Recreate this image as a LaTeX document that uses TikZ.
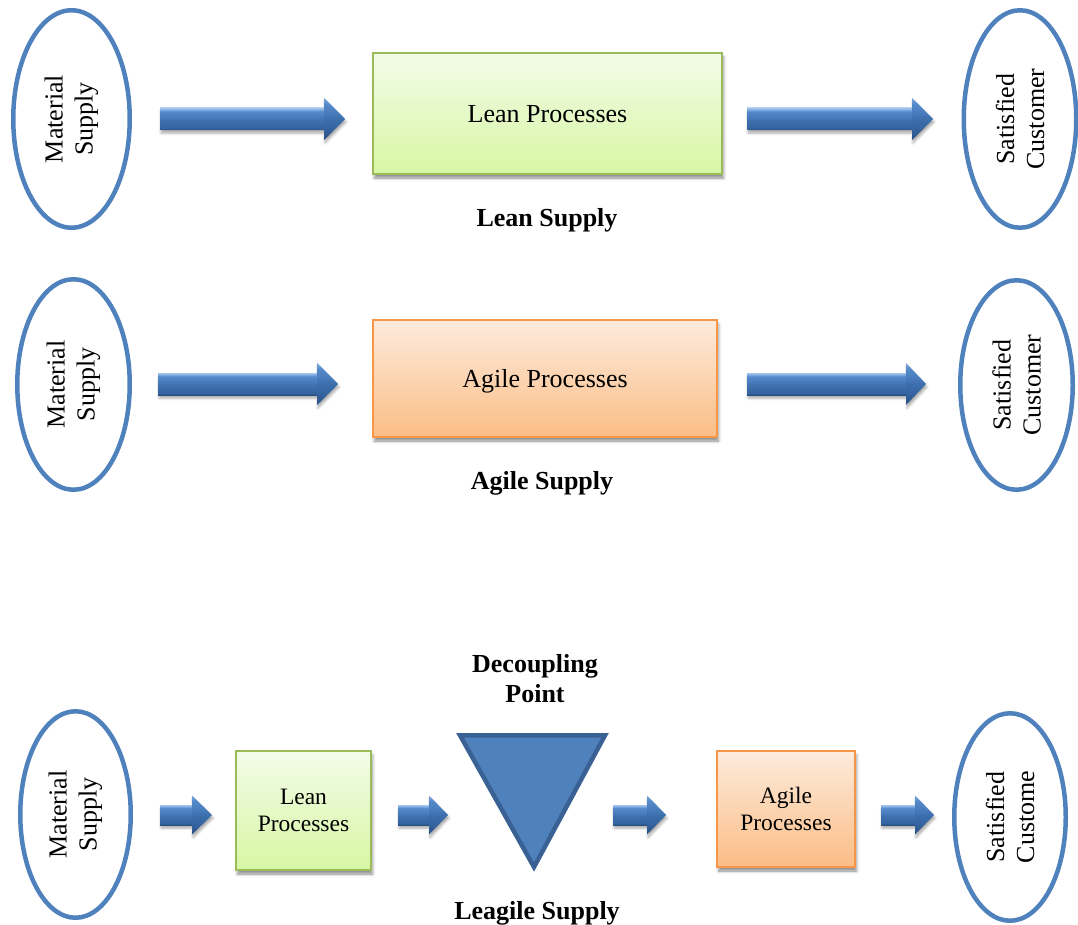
\documentclass[tikz,border=0pt]{standalone}
\usepackage{fontspec}
\setmainfont{Liberation Serif}
\usetikzlibrary{shapes.geometric,shadows.blur,calc}

% palette
\definecolor{ringblue}{HTML}{4F81BD}
\definecolor{triedge}{HTML}{3A6194}
\definecolor{leanedge}{HTML}{9BBB59}
\definecolor{leantop}{HTML}{F3FBE9}
\definecolor{leanbot}{HTML}{D7F7A3}
\definecolor{agileedge}{HTML}{F79646}
\definecolor{agiletop}{HTML}{FDEBDC}
\definecolor{agilebot}{HTML}{FBBD86}
\definecolor{arA}{HTML}{284F80}
\definecolor{arB}{HTML}{3463A0}
\definecolor{arC}{HTML}{3D6FAD}
\definecolor{arD}{HTML}{4A7DBE}
\definecolor{arE}{HTML}{5489CA}
\definecolor{arF}{HTML}{80AADF}
\definecolor{arG}{HTML}{A3C4EC}

% bevelled look of the block arrows (bottom = 0bp)
\pgfdeclareverticalshading{arrowbody}{100bp}{%
  color(0bp)=(arA); color(25bp)=(arA); color(29bp)=(arB); color(45bp)=(arC);
  color(56bp)=(arD); color(67bp)=(arE); color(71bp)=(arF); color(75bp)=(arG);
  color(100bp)=(arG)}
\pgfdeclareverticalshading{arrowtip}{100bp}{%
  color(0bp)=(arA); color(25bp)=(arA); color(38bp)=(arB); color(50bp)=(arC);
  color(58bp)=(arD); color(68bp)=(arE); color(75bp)=(arF); color(100bp)=(arF)}

% block arrow from coordinate #1 to #2: shaft half-width #3, head half-width #4, head length #5
\newcommand\blockarrow[5]{%
  \path[arrowshadow] let \p1=(#1), \p2=(#2) in
    (\x1,\y1+#3) -- (\x2-#5,\y1+#3) -- (\x2-#5,\y1+#4) -- (\x2,\y1)
    -- (\x2-#5,\y1-#4) -- (\x2-#5,\y1-#3) -- (\x1,\y1-#3) -- cycle;
  \path[shading=arrowbody] let \p1=(#1), \p2=(#2) in
    (\x1,\y1-#3) rectangle ({\x2-#5+0.6pt},\y1+#3);
  \path[shading=arrowtip] let \p1=(#1), \p2=(#2) in
    (\x2-#5,\y1+#4) -- (\x2,\y1) -- (\x2-#5,\y1-#4) -- cycle;
}

\begin{document}
\begin{tikzpicture}[x=1pt,y=-1pt,
  ring/.style={ellipse, draw=ringblue, line width=4.5pt, inner sep=0pt,
    align=center, rotate=90, font=\fontsize{26}{30}\selectfont},
  procbox/.style={draw, line width=2pt, inner sep=0pt, align=center,
    blur shadow={shadow xshift=1.5pt, shadow yshift=-4pt, shadow blur radius=3pt, shadow opacity=45}},
  leanbox/.style={procbox, draw=leanedge, top color=leantop, bottom color=leanbot},
  agilebox/.style={procbox, draw=agileedge, top color=agiletop, bottom color=agilebot},
  bigtext/.style={font=\fontsize{26}{30}\selectfont, text height=24pt, text depth=6pt},
  smalltext/.style={font=\fontsize{23.5}{27}\selectfont},
  caption/.style={font=\bfseries\fontsize{26}{30}\selectfont, inner sep=0pt, align=center},
  arrowshadow/.style={blur shadow={shadow xshift=1pt, shadow yshift=-3pt, shadow blur radius=2.5pt, shadow opacity=35}},
  decouple/.style={draw=triedge, fill=ringblue, line width=4.5pt, line join=miter}]
\useasboundingbox (0,0) rectangle (1078,925);

% ---------- lean supply ----------
\node[ring, minimum width=217.5pt, minimum height=116.5pt] (ms1) at (71.5,119) {Material\\Supply};
\node[leanbox, bigtext, minimum width=349pt, minimum height=121pt] (lp1) at (547.5,113.5) {Lean Processes};
\node[ring, minimum width=217.5pt, minimum height=112.5pt] (sc1) at (1020,119) {Satisfied\\Customer};
\node[caption, anchor=base] (cap1) at (547,227) {Lean Supply};

\coordinate (a1s) at (160,119); \coordinate (a1e) at (345,119);
\coordinate (a2s) at (747,119); \coordinate (a2e) at (933,119);
\blockarrow{a1s}{a1e}{11pt}{21pt}{21pt}
\blockarrow{a2s}{a2e}{11pt}{21pt}{21pt}

% ---------- agile supply ----------
\node[ring, minimum width=210.5pt, minimum height=112.5pt] (ms2) at (73.5,384.5) {Material\\Supply};
\node[agilebox, bigtext, minimum width=344pt, minimum height=117pt] (ap2) at (545,378.5) {Agile Processes};
\node[ring, minimum width=209.5pt, minimum height=112.5pt] (sc2) at (1016.5,385) {Satisfied\\Customer};
\node[caption, anchor=base] (cap2) at (542,489) {Agile Supply};

\coordinate (a3s) at (158,384); \coordinate (a3e) at (338,384);
\coordinate (a4s) at (747,384); \coordinate (a4e) at (926,384);
\blockarrow{a3s}{a3e}{11pt}{21pt}{21pt}
\blockarrow{a4s}{a4e}{11pt}{21pt}{20pt}

% ---------- leagile supply ----------
\node[ring, minimum width=206.5pt, minimum height=110.5pt] (ms3) at (75.5,814.5) {Material\\Supply};
\node[leanbox, smalltext, minimum width=135pt, minimum height=119pt] (lp3) at (303.5,810.5) {Lean\\Processes};
\node[agilebox, smalltext, minimum width=138pt, minimum height=116pt] (ap3) at (786,809) {Agile\\Processes};
\node[ring, minimum width=207.5pt, minimum height=111.5pt] (sc3) at (1010,817) {Satisfied\\Custome};

\coordinate (dp-l) at (460,735.3);
\coordinate (dp-r) at (605,735.3);
\coordinate (dp-t) at (534,867);
\draw[decouple] (dp-l) -- (dp-r) -- (dp-t) -- cycle;
\node[caption] (dp-lbl) at (535,679) {Decoupling\\Point};
\node[caption, anchor=base] (cap3) at (537,919) {Leagile Supply};

\coordinate (a5s) at (160,815); \coordinate (a5e) at (212,815);
\coordinate (a6s) at (398,815); \coordinate (a6e) at (448,815);
\coordinate (a7s) at (613,815); \coordinate (a7e) at (666,815);
\coordinate (a8s) at (881,815); \coordinate (a8e) at (934,815);
\blockarrow{a5s}{a5e}{10pt}{19.5pt}{20pt}
\blockarrow{a6s}{a6e}{10pt}{19.5pt}{19pt}
\blockarrow{a7s}{a7e}{10pt}{19.5pt}{19pt}
\blockarrow{a8s}{a8e}{10pt}{19.5pt}{19pt}

\end{tikzpicture}
\end{document}
